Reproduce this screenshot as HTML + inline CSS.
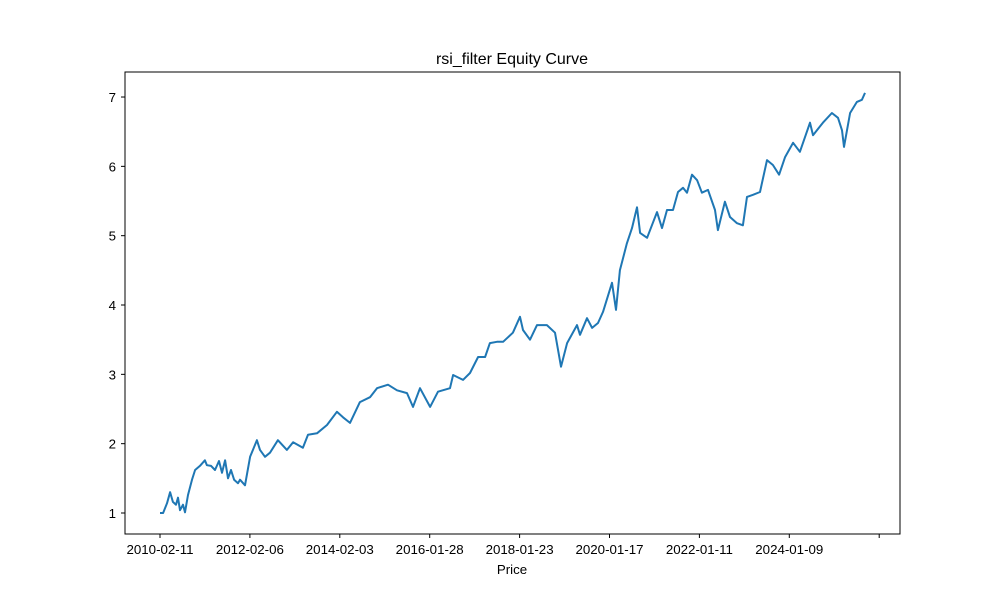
<!DOCTYPE html>
<html><head><meta charset="utf-8"><style>
body{margin:0;background:#fff;}
svg text{font-family:"Liberation Sans","DejaVu Sans",sans-serif;fill:#000;}
</style></head><body>
<svg id="chart" width="1000" height="600" xmlns="http://www.w3.org/2000/svg">
<rect x="0" y="0" width="1000" height="600" fill="#fff"/>
<text x="512" y="64" font-size="16" text-anchor="middle">rsi_filter Equity Curve</text>
<g id="plot"></g>
<rect x="125" y="72" width="775" height="462" fill="none" stroke="#000" stroke-width="1"/>
<text x="512" y="574" font-size="13.3" text-anchor="middle">Price</text>
</svg>
<script>
const days=[0,17,39,56,72,89,100,111,128,139,156,178,195,222,250,261,284,306,328,345,362,378,395,412,434,445,473,501,539,556,584,612,656,706,740,795,823,873,929,984,1018,1057,1112,1168,1207,1268,1318,1374,1407,1446,1502,1546,1613,1630,1685,1724,1769,1808,1835,1874,1908,1963,2002,2019,2058,2097,2152,2197,2230,2264,2319,2336,2375,2403,2436,2464,2514,2536,2558,2597,2625,2653,2670,2709,2764,2792,2820,2853,2881,2909,2931,2959,2987,3014,3048,3087,3103,3142,3170,3209,3242,3265,3298,3337,3376,3409,3443,3476,3521,3559,3615,3632,3687,3737,3771,3793,3804,3838,3876,3904,3921];
const equity=[1.00,1.00,1.14,1.30,1.16,1.12,1.22,1.04,1.12,1.01,1.26,1.48,1.62,1.68,1.76,1.69,1.68,1.62,1.75,1.58,1.76,1.50,1.62,1.48,1.43,1.48,1.40,1.81,2.05,1.91,1.81,1.87,2.05,1.91,2.02,1.94,2.13,2.15,2.27,2.46,2.38,2.30,2.60,2.67,2.80,2.85,2.77,2.73,2.53,2.80,2.53,2.75,2.80,2.99,2.92,3.02,3.25,3.25,3.45,3.47,3.47,3.60,3.83,3.64,3.50,3.71,3.71,3.60,3.11,3.45,3.71,3.57,3.81,3.67,3.74,3.90,4.32,3.93,4.50,4.89,5.11,5.41,5.04,4.97,5.34,5.11,5.37,5.37,5.63,5.69,5.62,5.88,5.80,5.62,5.66,5.37,5.08,5.49,5.27,5.18,5.15,5.56,5.59,5.63,6.09,6.02,5.88,6.13,6.34,6.21,6.63,6.45,6.63,6.77,6.70,6.52,6.28,6.77,6.93,6.96,7.06];
const xTickDays=[0,500,1000,1500,2000,2500,3000,3500,4000];
const xTickLabels=["2010-02-11","2012-02-06","2014-02-03","2016-01-28","2018-01-23","2020-01-17","2022-01-11","2024-01-09",""];
const yTicks=[1,2,3,4,5,6,7];

const NS="http://www.w3.org/2000/svg";
const xs=d=>160+d*89.9/500;
const ys=v=>513-(v-1)*69.33;
const svg=document.getElementById('chart');
const g=document.getElementById('plot');
function mk(t,a){const e=document.createElementNS(NS,t);for(const k in a)e.setAttribute(k,a[k]);return e;}
yTicks.forEach(v=>{
  const y=ys(v);
  const tk=mk('line',{x1:125,x2:121,y1:y,y2:y,stroke:'#000'});
  
  
  svg.appendChild(tk);
  const t=mk('text',{x:116,y:y+5,'font-size':13.3,'text-anchor':'end'});
  
  
  t.textContent=v;svg.appendChild(t);
});
xTickDays.forEach((d,i)=>{
  const x=xs(d);
  const tk=mk('line',{x1:x,x2:x,y1:534,y2:538,stroke:'#000'});
  
  
  svg.appendChild(tk);
  const t=mk('text',{x:x,y:554,'font-size':13.3,'text-anchor':'middle'});
  
  
  t.textContent=xTickLabels[i];svg.appendChild(t);
});
const pts=days.map((d,i)=>xs(d).toFixed(1)+','+ys(equity[i]).toFixed(1)).join(' ');
const line=mk('polyline',{points:pts,fill:'none',stroke:'#1f77b4','stroke-width':2,'stroke-linejoin':'round'});


g.appendChild(line);
</script>
</body></html>
